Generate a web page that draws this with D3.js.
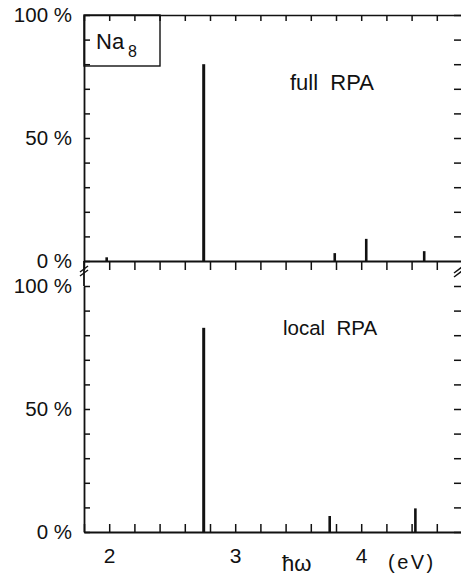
<!DOCTYPE html>
<html><head><meta charset="utf-8">
<script src="https://cdn.jsdelivr.net/npm/d3@7"></script>
<style>
html,body{margin:0;padding:0;background:#fff;}
svg{display:block;}
text{font-family:"Liberation Sans",Arial,sans-serif;fill:#111;}
</style></head>
<body>
<svg id="c" width="461" height="575"></svg>
<script>
// ---- data ----
const fullEnergies = [1.98, 2.75, 3.79, 4.04, 4.50];
const fullStrength = [1.5, 80, 3.2, 9, 4];
const localEnergies = [2.75, 3.75, 4.43];
const localStrength = [83, 6.5, 9.6];
const xTickValues = [1.8,2.0,2.2,2.4,2.6,2.8,3.0,3.2,3.4,3.6,3.8,4.0,4.2,4.4,4.6,4.8];
const xTickLabels = [2, 3, 4];
const yTickValues = [0,10,20,30,40,50,60,70,80,90,100];
const yTickLabels = [0, 50, 100];
const panelLabels = ["full  RPA", "local  RPA"];

const svg = d3.select("#c");
const x = d3.scaleLinear().domain([1.8, 4.8]).range([84, 462]);
const yTop = d3.scaleLinear().domain([0, 100]).range([261, 15]);
const yBot = d3.scaleLinear().domain([0, 100]).range([532, 286]);

const ink = "#111";
function styleAxis(g, w, fs) {
  g.selectAll("path.domain").attr("stroke", ink).attr("stroke-width", w);
  g.selectAll(".tick line").attr("stroke", ink).attr("stroke-width", 1.5);
  g.selectAll("text").attr("font-size", fs || 20).attr("font-family", '"Liberation Sans",Arial,sans-serif').attr("fill", ink);
}
const yFmt = d => yTickLabels.includes(d) ? d + " %" : "";
const xFmt = d => xTickLabels.some(v => Math.abs(v - d) < 1e-6) ? String(Math.round(d)) : "";

// ---- top panel ----
svg.append("g").attr("transform", `translate(0,${yTop(100)})`)
  .call(d3.axisTop(x).tickValues(xTickValues).tickSize(-6).tickSizeOuter(0).tickFormat(""))
  .call(g => styleAxis(g, 1.6));
svg.append("g").attr("transform", `translate(0,${yTop(0)})`)
  .call(d3.axisBottom(x).tickValues(xTickValues).tickSize(9).tickSizeOuter(0).tickFormat(""))
  .call(g => styleAxis(g, 1.8));
svg.append("g").attr("transform", `translate(${x(1.8)},0)`)
  .call(d3.axisLeft(yTop).tickValues(yTickValues).tickSize(-6).tickPadding(12).tickSizeOuter(0).tickFormat(yFmt))
  .call(g => styleAxis(g, 1.8, 20.5));
svg.append("g").attr("transform", `translate(${x(4.8)},0)`)
  .call(d3.axisRight(yTop).tickValues(yTickValues.slice(1)).tickSize(-8).tickSizeOuter(0).tickFormat(""))
  .call(g => styleAxis(g, 1.8));

// ---- bottom panel ----
svg.append("g").attr("transform", `translate(0,${yBot(0)})`)
  .call(d3.axisBottom(x).tickValues(xTickValues).tickSize(-8).tickPadding(16).tickSizeOuter(0).tickFormat(xFmt))
  .call(g => styleAxis(g, 1.8, 21));
svg.append("g").attr("transform", `translate(${x(1.8)},0)`)
  .call(d3.axisLeft(yBot).tickValues(yTickValues).tickSize(-6).tickPadding(12).tickSizeOuter(0).tickFormat(yFmt))
  .call(g => styleAxis(g, 1.8, 20.5));
svg.append("g").attr("transform", `translate(${x(4.8)},0)`)
  .call(d3.axisRight(yBot).tickValues(yTickValues).tickSize(-8).tickSizeOuter(0).tickFormat(""))
  .call(g => styleAxis(g, 1.8));
svg.append("line").attr("x1", x(1.8)).attr("x2", x(1.8)).attr("y1", yTop(0)).attr("y2", yBot(100))
  .attr("stroke", ink).attr("stroke-width", 1.8);
// break marks
[[x(1.8), 269], [x(1.8), 273]].forEach(([cx, cy]) => {
  svg.append("line").attr("x1", cx - 4).attr("y1", cy + 3).attr("x2", cx + 4).attr("y2", cy - 3)
    .attr("stroke", ink).attr("stroke-width", 1.4);
});
[[x(4.8) - 4, 270], [x(4.8) - 4, 274]].forEach(([cx, cy]) => {
  svg.append("line").attr("x1", cx - 4).attr("y1", cy + 3).attr("x2", cx + 4).attr("y2", cy - 3)
    .attr("stroke", ink).attr("stroke-width", 1.4);
});

// ---- peaks ----
const fullData = fullEnergies.map((e, i) => ({ e, v: fullStrength[i] }));
const localData = localEnergies.map((e, i) => ({ e, v: localStrength[i] }));
svg.append("g").selectAll("line").data(fullData).join("line")
  .attr("x1", d => x(d.e)).attr("x2", d => x(d.e))
  .attr("y1", yTop(0)).attr("y2", d => yTop(d.v))
  .attr("stroke", ink).attr("stroke-width", d => d.v > 50 ? 3 : 2.6);
svg.append("g").selectAll("line").data(localData).join("line")
  .attr("x1", d => x(d.e)).attr("x2", d => x(d.e))
  .attr("y1", yBot(0)).attr("y2", d => yBot(d.v))
  .attr("stroke", ink).attr("stroke-width", d => d.v > 50 ? 3 : 2.6);

// ---- labels ----
svg.append("rect").attr("x", x(1.8)).attr("y", yTop(100)).attr("width", 76).attr("height", 51)
  .attr("fill", "none").attr("stroke", ink).attr("stroke-width", 1.4);
svg.append("text").attr("x", 96).attr("y", 49).attr("font-size", 22).text("Na");
svg.append("text").attr("x", 128).attr("y", 57).attr("font-size", 16).text("8");

svg.append("text").attr("x", 290).attr("y", 90).attr("font-size", 22)
  .style("white-space", "pre").text(panelLabels[0]);
svg.append("text").attr("x", 283).attr("y", 335).attr("font-size", 20.5)
  .style("white-space", "pre").text(panelLabels[1]);

svg.append("text").attr("x", 282).attr("y", 571).attr("font-size", 22).text("ħω");
svg.append("text").attr("x", 388).attr("y", 569).attr("font-size", 20).attr("letter-spacing", 2.5).text("(eV)");
</script>
</body></html>
